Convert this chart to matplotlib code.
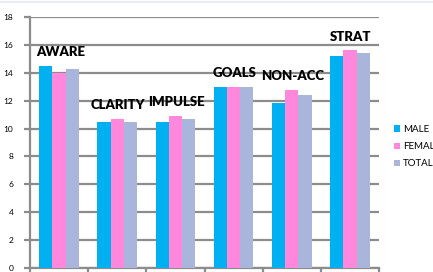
import matplotlib
matplotlib.use("Agg")
import matplotlib.pyplot as plt
import numpy as np

categories = ["AWARE", "CLARITY", "IMPULSE", "GOALS", "NON-ACC", "STRAT"]
male = [14.5, 10.5, 10.5, 13.0, 11.8, 15.2]
female = [14.0, 10.7, 10.9, 13.0, 12.8, 15.6]
total = [14.3, 10.5, 10.7, 13.0, 12.4, 15.4]
series_names = ["MALE", "FEMALE", "TOTAL"]
colors = ["#00B0F0", "#FF88DD", "#A9B5DA"]
yticks = [0, 2, 4, 6, 8, 10, 12, 14, 16, 18]

W, H = 433, 272
fig = plt.figure(figsize=(W / 100, H / 100), dpi=100)
fig.patch.set_facecolor("white")
ax = fig.add_axes([30 / W, 1 - 268 / H, 349 / W, 251 / H])

x = np.arange(len(categories))
bw = 0.228
grid_c = "#8C8C8C"
for i, (vals, name, c) in enumerate(zip([male, female, total], series_names, colors)):
    ax.bar(x + (i - 1) * bw, vals, width=bw, color=c, label=name, zorder=3)

for xi, cat, m, f, t in zip(x, categories, male, female, total):
    top = max(m, f, t)
    ax.text(xi + 0.02, top + 0.7, cat, ha="center", va="baseline",
            fontsize=9.5, fontweight="heavy", family="Lato", color="black", zorder=4)

ax.set_xlim(-0.5, len(categories) - 0.5)
ax.set_ylim(0, 18)
ax.set_yticks(yticks)
ax.set_yticklabels([str(v) for v in yticks], fontsize=6, family="Lato")
ax.set_xticks(np.arange(len(categories) + 1) - 0.5)
ax.set_xticklabels([])
ax.yaxis.grid(True, color=grid_c, linewidth=1.6, zorder=0)
ax.tick_params(axis="y", length=4, width=1.6, color=grid_c, pad=8)
ax.tick_params(axis="x", length=4, width=1.6, color=grid_c)
for s in ["top", "right"]:
    ax.spines[s].set_visible(False)
for s in ["left", "bottom"]:
    ax.spines[s].set_color(grid_c)
    ax.spines[s].set_linewidth(1.6)

leg = fig.legend(loc="upper left", bbox_to_anchor=(390 / W, 1 - 121 / H),
                 frameon=False, prop={"family": "Lato", "size": 7},
                 handlelength=0.6, handleheight=0.6, handletextpad=0.3,
                 labelspacing=0.85, borderaxespad=0)

fig.add_artist(plt.Line2D([0, 1], [1 - 1.5 / H, 1 - 1.5 / H], color="#E8ECF5",
                          linewidth=1.5, transform=fig.transFigure))

fig.savefig("out.png", dpi=100)
